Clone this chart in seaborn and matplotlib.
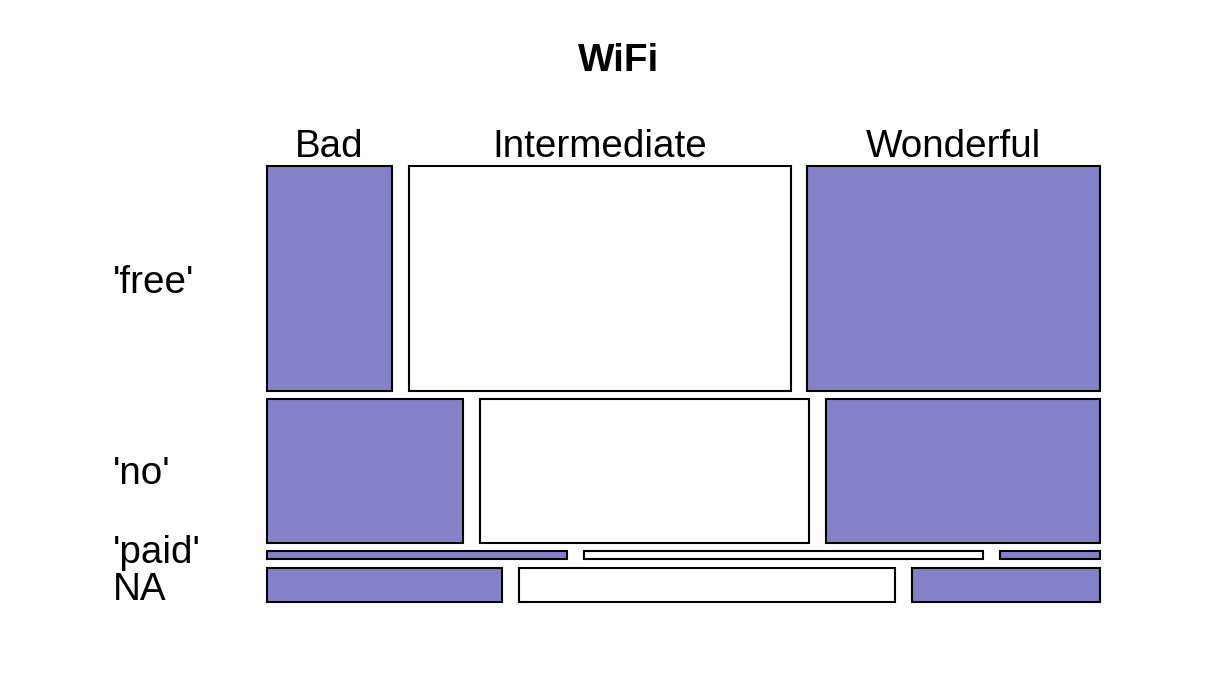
import numpy as np
import pandas as pd
import matplotlib
matplotlib.use("Agg")
import matplotlib.pyplot as plt
import matplotlib.transforms as mtransforms
import seaborn as sns

# counts (rows = WiFi, columns = rating)
rows = ["'free'", "'no'", "'paid'", "NA"]
cols = ["Bad", "Intermediate", "Wonderful"]
bad = [35, 35, 3, 10]
intermediate = [107, 59, 4, 16]
wonderful = [82, 49, 1, 8]
fills = ["#8481C9", "white", "#8481C9"]

sns.set_style("white")
plt.rcParams['font.family'] = ['Liberation Sans', 'DejaVu Sans']
plt.rcParams['text.color'] = 'black'

counts = pd.DataFrame({"Bad": bad, "Intermediate": intermediate, "Wonderful": wonderful}, index=rows)

gx = 0.0204   # gap between columns (axes units)
gy = 0.0195   # gap between rows
fs = 27.8

fig = plt.figure(figsize=(12.08, 6.8), dpi=100)
ax = fig.add_axes([0.221, 0.1147, 0.6896, 0.6412])

row_tot = counts.sum(axis=1)
row_h = row_tot / row_tot.sum() * (1 - gy * (len(rows) - 1))

top = 1.0
row_centers = []
for i, r in enumerate(rows):
    h = row_h[r]
    y0 = top - h
    props = counts.loc[r] / row_tot[r] * (1 - gx * (len(cols) - 1))
    left = 0.0
    for j, c in enumerate(cols):
        w = props[c]
        ax.bar(left, h, width=w, bottom=y0, align='edge', color=fills[j],
               edgecolor='black', linewidth=1.5, clip_on=False)
        if i == 0:
            ax.text(left + w / 2, 1.0, c, ha='center', va='bottom', fontsize=fs, color='black',
                    transform=ax.transData + mtransforms.ScaledTranslation(0, 1 / 72, fig.dpi_scale_trans))
        left += w + gx
    row_centers.append(y0 + h / 2)
    top = y0 - gy

# nudge the two thin rows apart like the reference
nudges = [-3, -2, 2, -4]
for r, yc, dy in zip(rows, row_centers, nudges):
    off = mtransforms.ScaledTranslation(0, dy / 72, fig.dpi_scale_trans)
    ax.text(113 / 1208, yc, r, ha='left', va='center', fontsize=fs, color='black',
            transform=mtransforms.blended_transform_factory(fig.transFigure, ax.transData) + off)

ax.set_xlim(0, 1)
ax.set_ylim(0, 1)
ax.axis('off')
fig.text(619 / 1208, 1 - 61 / 680, "WiFi", ha='center', va='center', fontsize=fs, fontweight='bold', color='black')

fig.savefig("out.png", dpi=100)
